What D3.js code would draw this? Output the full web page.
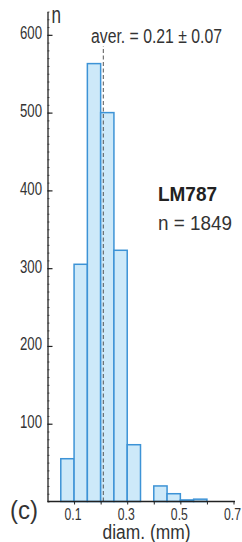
<!DOCTYPE html>
<html>
<head>
<meta charset="utf-8">
<script src="https://cdn.jsdelivr.net/npm/d3@7"></script>
<style>
body{margin:0;background:#fff;}
text{font-family:"Liberation Sans",Arial,sans-serif;fill:#333;}
</style>
</head>
<body>
<script>
// histogram of grain diameters, bins of 0.05 mm
const binStarts=[0.05,0.10,0.15,0.20,0.25,0.30,0.35,0.40,0.45,0.50,0.55];
const counts   =[55,305,563,500,323,73,0,20,10,2,3];
const yTicks=[100,200,300,400,500,600];
const xTicks=[0.1,0.2,0.3,0.4,0.5,0.6,0.7];
const xLabels=['0.1','','0.3','','0.5','','0.7'];
const binWidth=0.05;
const mean=0.21, sd=0.07, total=1849, sample='LM787';

const width=242,height=542;
const svg=d3.select('body').append('svg').attr('width',width).attr('height',height);

const x=d3.scaleLinear().domain([0,0.7]).range([47.5,233.5]);
const y=d3.scaleLinear().domain([0,630]).range([501.5,11.5]);

// bars
svg.append('g').selectAll('rect')
  .data(binStarts.map((s,i)=>({s,c:counts[i]})).filter(d=>d.c>0))
  .enter().append('rect')
  .attr('x',d=>x(d.s))
  .attr('y',d=>y(d.c))
  .attr('width',d=>x(d.s+binWidth)-x(d.s))
  .attr('height',d=>y(0)-y(d.c))
  .style('fill','#cde9f9')
  .style('stroke','#3d93d6')
  .style('stroke-width',1.5);

// mean line
svg.append('line')
  .attr('x1',x(mean)).attr('x2',x(mean))
  .attr('y1',y(0)).attr('y2',46)
  .style('stroke','#555').style('stroke-width',1)
  .style('stroke-dasharray','4,2.5');

// minor y ticks
svg.append('g').attr('transform',`translate(${x(0)},0)`)
  .call(d3.axisLeft(y).tickValues(d3.range(0,631,10)).tickSizeInner(-2).tickSizeOuter(0).tickFormat(''))
  .call(g=>g.select('.domain').remove())
  .call(g=>g.selectAll('line').style('stroke','#666'));

// y axis
svg.append('g').attr('transform',`translate(${x(0)},0)`)
  .call(d3.axisLeft(y).tickValues(yTicks).tickSizeInner(-5).tickSizeOuter(0).tickPadding(5.5))
  .call(g=>g.select('.domain').style('stroke','#222').style('stroke-width',1.3))
  .call(g=>g.selectAll('.tick line').style('stroke','#222').style('stroke-width',1.2))
  .call(g=>g.selectAll('text').attr('dy','0.22em').style('font-size','18px').style('fill','#333')
    .style('font-family','"Liberation Sans",sans-serif')
    .attr('textLength',22).attr('lengthAdjust','spacingAndGlyphs'));

// x axis
svg.append('g').attr('transform',`translate(0,${y(0)})`)
  .call(d3.axisBottom(x).tickValues(xTicks).tickSizeInner(3).tickSizeOuter(0).tickPadding(3)
    .tickFormat((d,i)=>xLabels[i]))
  .call(g=>g.select('.domain').attr('d',`M${x(0)},0H${x(0.7)+1.5}`).style('stroke','#222').style('stroke-width',1.3))
  .call(g=>g.selectAll('.tick line').style('stroke','#222'))
  .call(g=>g.selectAll('.tick text').attr('x',-1.5).style('font-size','17px').style('fill','#333')
    .style('font-family','"Liberation Sans",sans-serif'))
  .call(g=>g.selectAll('.tick text').filter(function(){return this.textContent!=='';})
    .attr('textLength',17).attr('lengthAdjust','spacingAndGlyphs'));

// labels
svg.append('text').text('n').attr('x',51.5).attr('y',23)
  .style('font-size','23px').attr('textLength',9.5).attr('lengthAdjust','spacingAndGlyphs');
svg.append('text').text(`aver. = ${mean} \u00b1 ${sd.toFixed(2)}`)
  .attr('x',91).attr('y',43).style('font-size','19.5px')
  .attr('textLength',131).attr('lengthAdjust','spacingAndGlyphs');
svg.append('text').text(sample).attr('x',158).attr('y',201)
  .style('font-size','19.5px').style('font-weight','bold').style('fill','#222')
  .attr('textLength',59).attr('lengthAdjust','spacingAndGlyphs');
svg.append('text').text(`n = ${total}`).attr('x',158).attr('y',229.5)
  .style('font-size','19.5px').attr('textLength',74).attr('lengthAdjust','spacingAndGlyphs');
svg.append('text').text('(c)').attr('x',10).attr('y',519).style('font-size','26px')
  .attr('textLength',28).attr('lengthAdjust','spacingAndGlyphs');
svg.append('text').text('diam. (mm)').attr('x',102.5).attr('y',539)
  .style('font-size','19.5px').attr('textLength',88).attr('lengthAdjust','spacingAndGlyphs');
</script>
</body>
</html>
